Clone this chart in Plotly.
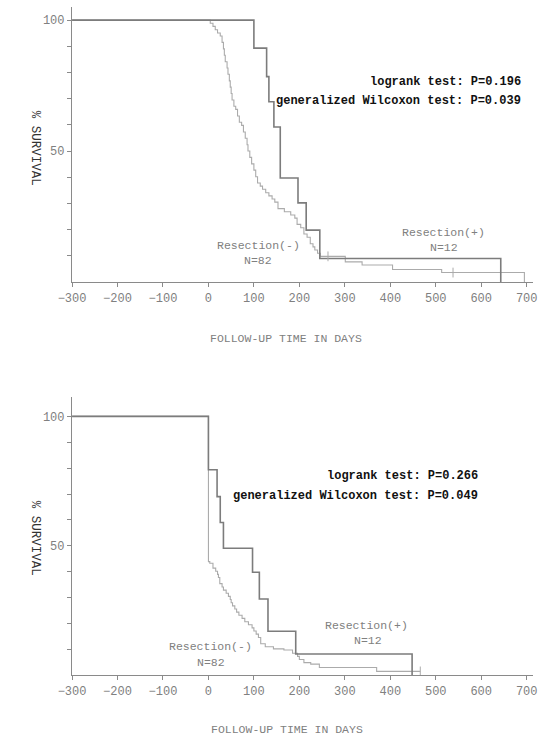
import plotly.graph_objects as go

# ---------------- data ----------------
top_pos_days = [-300, 100, 128, 133, 144, 158, 197, 215, 245, 643]
top_pos_surv = [100, 89.3, 78.4, 68.8, 59.2, 39.7, 30.2, 19.8, 9.0, 0]

top_neg_days = [-300, 4, 10, 15, 20, 26, 30, 33, 35, 37, 41, 43, 46, 48, 50, 52, 56, 60, 64, 68,
                73, 77, 81, 85, 87, 91, 95, 100, 104, 108, 114, 119, 126, 133, 140, 146, 153,
                167, 181, 190, 195, 203, 210, 217, 224, 230, 234, 240, 246, 301, 338, 405, 513, 695]
top_neg_surv = [100, 98.8, 97.6, 96.3, 95.1, 93.9, 91.5, 89.0, 86.6, 84.1, 81.7, 79.3, 76.8, 74.4,
                72.0, 69.5, 67.1, 65.9, 63.4, 61.0, 59.8, 57.3, 54.9, 52.4, 50.0, 47.6, 45.1, 42.7,
                40.2, 37.8, 36.6, 35.4, 34.1, 32.9, 31.7, 30.5, 28.0, 26.8, 25.6, 24.4, 22.0, 20.7,
                18.3, 17.1, 14.6, 13.4, 12.2, 11.0, 9.8, 7.7, 6.5, 4.8, 3.6, 0]
top_neg_cens_days = [263, 538]
top_neg_cens_surv = [9.8, 3.6]

bot_pos_days = [-300, 0, 19, 26, 33, 97, 112, 131, 192, 448]
bot_pos_surv = [100, 79.4, 69.0, 59.0, 49.1, 39.8, 29.5, 17.0, 8.2, 0]

bot_neg_days = [-300, 0, 3, 10, 16, 20, 22, 25, 30, 33, 39, 44, 48, 50, 53, 58, 62, 67, 74, 80,
                88, 96, 100, 105, 110, 115, 125, 143, 166, 185, 196, 200, 210, 225, 244, 370, 466]
bot_neg_surv = [100, 43.9, 43.3, 41.4, 40.2, 39.0, 37.8, 35.4, 34.1, 32.9, 31.7, 30.5, 29.3, 28.0,
                26.8, 25.6, 24.4, 23.2, 22.0, 20.7, 19.5, 18.3, 17.1, 15.9, 14.6, 12.2, 11.0, 10.2,
                9.8, 8.5, 7.3, 6.1, 4.9, 4.3, 3.0, 1.5, 1.5]
bot_neg_cens_days = [466]
bot_neg_cens_surv = [1.5]

x_ticks = [-300, -200, -100, 0, 100, 200, 300, 400, 500, 600, 700]
y_ticks = [10, 20, 30, 40, 50, 60, 70, 80, 90, 100]
y_ticktext = ["", "", "", "", "50", "", "", "", "", "100"]

top_tests = ["logrank test: P=0.196", "generalized Wilcoxon test: P=0.039"]
bot_tests = ["logrank test: P=0.266", "generalized Wilcoxon test: P=0.049"]

# ---------------- figure ----------------
W, H = 552, 735
POS_COLOR = "#7c7c7c"
NEG_COLOR = "#ababab"
AX_COLOR = "#8a8a8a"
MONO = "Liberation Mono"

fig = go.Figure()

def add_curves(days_p, surv_p, days_n, surv_n, cd, cs, xa, ya):
    fig.add_trace(go.Scatter(x=days_n, y=surv_n, mode="lines", line=dict(shape="hv", color=NEG_COLOR, width=1.1),
                             xaxis=xa, yaxis=ya, showlegend=False, hoverinfo="skip"))
    fig.add_trace(go.Scatter(x=days_p, y=surv_p, mode="lines", line=dict(shape="hv", color=POS_COLOR, width=1.6),
                             xaxis=xa, yaxis=ya, showlegend=False, hoverinfo="skip"))
    fig.add_trace(go.Scatter(x=cd, y=cs, mode="markers",
                             marker=dict(symbol="line-ns", size=7, line=dict(color=NEG_COLOR, width=1)),
                             xaxis=xa, yaxis=ya, showlegend=False, hoverinfo="skip"))

add_curves(top_pos_days, top_pos_surv, top_neg_days, top_neg_surv, top_neg_cens_days, top_neg_cens_surv, "x", "y")
add_curves(bot_pos_days, bot_pos_surv, bot_neg_days, bot_neg_surv, bot_neg_cens_days, bot_neg_cens_surv, "x2", "y2")

xdom = [60 / W, 537 / W]
xcommon = dict(range=[-300, 715], tickvals=x_ticks, ticks="outside", ticklen=4, tickcolor=AX_COLOR,
               showline=True, linecolor=AX_COLOR, linewidth=1.3, showgrid=False, zeroline=False,
               tickfont=dict(family=MONO, size=12, color="#808080"), domain=xdom)
ycommon = dict(tickvals=y_ticks, ticktext=y_ticktext, ticks="outside", ticklen=4, tickcolor=AX_COLOR,
               showline=True, linecolor=AX_COLOR, linewidth=1.3, showgrid=False, zeroline=False,
               tickfont=dict(family=MONO, size=12, color="#808080"))

fig.update_layout(
    width=W, height=H, margin=dict(l=0, r=0, t=0, b=0),
    paper_bgcolor="white", plot_bgcolor="white",
    xaxis=dict(**xcommon, anchor="y"),
    yaxis=dict(**ycommon, range=[0, 105], domain=[1 - 282 / H, 1 - 7 / H], anchor="x"),
    xaxis2=dict(**xcommon, anchor="y2"),
    yaxis2=dict(**ycommon, range=[0, 107.5], domain=[1 - 675.3 / H, 1 - 397 / H], anchor="x2"),
)

ann = []
def txt(text, x, y, xref, yref, xanchor="center", size=12, color="#808080", bold=False, angle=0):
    ann.append(dict(text=("<b>%s</b>" % text) if bold else text, x=x, y=y, xref=xref, yref=yref,
                    xanchor=xanchor, yanchor="middle", showarrow=False, textangle=angle,
                    font=dict(family=MONO, size=size, color=color)))

# top panel
txt(top_tests[0], 693, 76.3, "x", "y", xanchor="right", color="#111111", bold=True)
txt(top_tests[1], 693, 69.1, "x", "y", xanchor="right", color="#111111", bold=True)
txt("Resection(-)", 110, 14.0, "x", "y", size=11.5)
txt("N=82", 110, 8.4, "x", "y", size=11.5)
txt("Resection(+)", 516, 19.0, "x", "y", size=11.5)
txt("N=12", 518, 13.2, "x", "y", size=11.5)
# bottom panel
txt(bot_tests[0], 597, 77.1, "x2", "y2", xanchor="right", color="#111111", bold=True)
txt(bot_tests[1], 597, 69.3, "x2", "y2", xanchor="right", color="#111111", bold=True)
txt("Resection(+)", 348, 19.1, "x2", "y2", size=11.5)
txt("N=12", 350, 13.3, "x2", "y2", size=11.5)
txt("Resection(-)", 5, 11.3, "x2", "y2", size=11.5)
txt("N=82", 5, 5.1, "x2", "y2", size=11.5)
# axis titles
txt("FOLLOW-UP TIME IN DAYS", 281 / W, 1 - 338 / H, "paper", "paper", size=11.5)
txt("FOLLOW-UP TIME IN DAYS", 282 / W, 1 - 729 / H, "paper", "paper", size=11.5)
txt("% SURVIVAL", 22 / W, 1 - 148 / H, "paper", "paper", size=12.5, color="#333333", angle=90)
txt("% SURVIVAL", 22 / W, 1 - 538 / H, "paper", "paper", size=12.5, color="#333333", angle=90)

fig.update_layout(annotations=ann)
fig.write_html("out.html")
